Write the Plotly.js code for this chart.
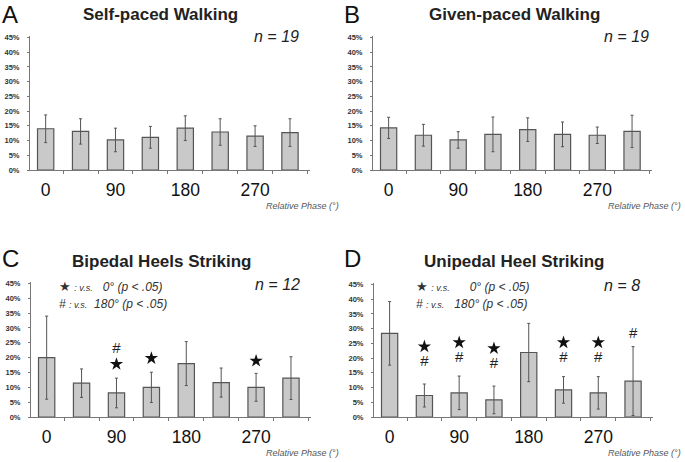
<!DOCTYPE html>
<html>
<head>
<meta charset="utf-8">
<script src="https://cdn.plot.ly/plotly-3.0.1.min.js"></script>
<style>
  html, body { margin: 0; padding: 0; background: #fff; }
  #chart { width: 685px; height: 462px; }
</style>
</head>
<body>
<div id="chart"></div>
<script>
// relative phase categories (deg)
const phases = [0, 45, 90, 135, 180, 225, 270, 315];
const phaseTicks = [0, 90, 180, 270];
const pctTicks = [0, 5, 10, 15, 20, 25, 30, 35, 40, 45];

// mean and SD (%) per condition
const selfMean  = [14.0, 13.1, 10.2, 11.1, 14.2, 12.9, 11.5, 12.7];
const selfSD    = [4.7, 4.3, 4.0, 3.7, 4.2, 4.5, 3.5, 4.7];
const givenMean = [14.3, 11.8, 10.2, 12.1, 13.7, 12.1, 11.8, 13.1];
const givenSD   = [3.6, 3.7, 2.8, 5.9, 4.0, 4.2, 2.8, 5.5];
const biMean    = [20.0, 11.4, 8.1, 10.0, 18.0, 11.6, 10.0, 13.1];
const biSD      = [14.0, 4.8, 5.0, 5.1, 7.4, 4.9, 4.7, 7.2];
const uniMean   = [28.4, 7.3, 8.2, 5.8, 21.9, 9.2, 8.2, 12.2];
const uniSD     = [10.8, 3.9, 5.7, 4.7, 9.9, 4.5, 5.5, 11.7];

// significance marks: star = vs 0 deg, hash = vs 180 deg
const biStarX  = [90, 135, 270];
const biStarY  = [17.8, 19.8, 18.9];
const biHashX  = [90];
const biHashY  = [22.9];
const uniStarX = [45, 90, 135, 225, 270];
const uniStarY = [23.9, 25.3, 23.3, 25.3, 25.3];
const uniHashX = [45, 90, 135, 225, 270, 315];
const uniHashY = [18.5, 20.0, 18.0, 20.0, 20.0, 28.1];

const panels = [
  { letter: 'A', title: 'Self-paced Walking', n: 'n = 19', mean: selfMean, sd: selfSD },
  { letter: 'B', title: 'Given-paced Walking', n: 'n = 19', mean: givenMean, sd: givenSD },
  { letter: 'C', title: 'Bipedal Heels Striking', n: 'n = 12', mean: biMean, sd: biSD },
  { letter: 'D', title: 'Unipedal Heel Striking', n: 'n = 8', mean: uniMean, sd: uniSD },
];

const W = 685, H = 462;
const px = v => v / W;
const py = v => 1 - v / H;

// pixel frames for each panel: x0, x1 of axis, y of 0% and 45%
const frames = [
  { x0: 30, x1: 310, yb: 170, yt: 36, dx: 0, dy: 0, tx: 160, nx: 276, ly: 15 },
  { x0: 373, x1: 652, yb: 170, yt: 36, dx: 342, dy: 0, tx: 172, nx: 284, ly: 15 },
  { x0: 31, x1: 311, yb: 417, yt: 282, dx: 0, dy: 246, tx: 162, nx: 277, ly: 12 },
  { x0: 374, x1: 653, yb: 417, yt: 283, dx: 342, dy: 246, tx: 172, nx: 280, ly: 12 },
];

const FONT = 'Liberation Sans, Arial, sans-serif';
const traces = [];
const layout = {
  width: W, height: H,
  margin: { t: 0, b: 0, l: 0, r: 0 },
  paper_bgcolor: '#fff',
  plot_bgcolor: '#fff',
  showlegend: false,
  font: { family: FONT, color: '#222' },
  annotations: [],
};

function note(text, x, y, font, extra) {
  layout.annotations.push(Object.assign({
    text, x: px(x), y: py(y), xref: 'paper', yref: 'paper',
    xanchor: 'center', yanchor: 'middle', showarrow: false, font,
  }, extra || {}));
}

panels.forEach((p, i) => {
  const f = frames[i];
  const sfx = i === 0 ? '' : String(i + 1);
  traces.push({
    type: 'bar',
    x: phases,
    y: p.mean,
    width: 21,
    xaxis: 'x' + sfx,
    yaxis: 'y' + sfx,
    marker: { color: '#c9c9c9', line: { color: '#555', width: 1.2 } },
    error_y: { type: 'data', array: p.sd, visible: true, color: '#555', thickness: 1, width: 1.5 },
    hoverinfo: 'skip',
  });

  layout['xaxis' + sfx] = {
    domain: [px(f.x0), px(f.x1)],
    anchor: 'y' + sfx,
    range: [-20.2, 340.8],
    tickmode: 'array',
    tickvals: phaseTicks,
    ticktext: phaseTicks.map(String),
    ticks: '',
    ticklabelstandoff: 4,
    tickfont: { size: 17.5, color: '#111', family: FONT },
    showgrid: false,
    zeroline: false,
    showline: true,
    linecolor: '#777',
    linewidth: 1,
    minor: { tickmode: 'linear', tick0: 22.5, dtick: 45, ticks: 'outside', ticklen: 3, tickcolor: '#777', showgrid: false },
  };
  layout['yaxis' + sfx] = {
    domain: [py(f.yb), py(f.yt)],
    anchor: 'x' + sfx,
    range: [0, 45.5],
    tickmode: 'array',
    tickvals: pctTicks,
    ticktext: pctTicks.map(v => v + '%'),
    ticks: 'outside',
    ticklen: 2,
    tickcolor: '#777',
    ticklabelstandoff: 6,
    tickfont: { size: 7.5, color: '#333', family: FONT, weight: 'bold' },
    showgrid: false,
    zeroline: false,
    showline: true,
    linecolor: '#777',
    linewidth: 1,
  };

  note(p.letter, f.dx + 10, f.dy + f.ly, { size: 24, color: '#111', family: FONT });
  note('<b>' + p.title + '</b>', f.dx + f.tx, f.dy + 15, { size: 17, color: '#222', family: FONT });
  note(p.n, f.dx + f.nx, f.yt + (i < 2 ? 0 : 2), { size: 16, color: '#222', family: FONT, style: 'italic' });
  note('Relative Phase (°)', f.dx + 341, f.yb + 36, { size: 9, color: '#555', family: FONT, style: 'italic' }, { xanchor: 'right' });
});

// significance legends in C and D
[[0, 57, '&nbsp;&nbsp;&nbsp;', '&nbsp;&nbsp;'], [342, 72, '&nbsp;&nbsp;&nbsp;&nbsp;&nbsp;&nbsp;', '&nbsp;&nbsp;&nbsp;']].forEach(([dx, lx, g1, g2]) => {
  const lf = { size: 12, color: '#333', family: FONT, style: 'italic' };
  note('<span style="font-style:normal;font-size:13px">★</span> <span style="font-size:9px">: v.s.</span>' + g1 + '0° (p &lt; .05)',
    dx + lx, 286, lf, { xanchor: 'left' });
  note('# <span style="font-size:9px">: v.s.</span>' + g2 + '180° (p &lt; .05)',
    dx + lx, 304, lf, { xanchor: 'left' });
});

// significance marks on bars
[[biStarX, biStarY, biHashX, biHashY, '3'], [uniStarX, uniStarY, uniHashX, uniHashY, '4']].forEach(([sx, sy, hx, hy, ax]) => {
  traces.push({
    type: 'scatter', mode: 'markers', x: sx, y: sy, xaxis: 'x' + ax, yaxis: 'y' + ax,
    marker: { symbol: 'star', size: 10, color: '#111', line: { width: 0 } }, hoverinfo: 'skip', cliponaxis: false,
  });
  traces.push({
    type: 'scatter', mode: 'text', x: hx, y: hy, xaxis: 'x' + ax, yaxis: 'y' + ax,
    text: hx.map(() => '#'), textposition: 'middle center',
    textfont: { size: 15, color: '#222', family: FONT }, hoverinfo: 'skip', cliponaxis: false,
  });
});

Plotly.newPlot('chart', traces, layout, { displayModeBar: false, staticPlot: true });
</script>
</body>
</html>
